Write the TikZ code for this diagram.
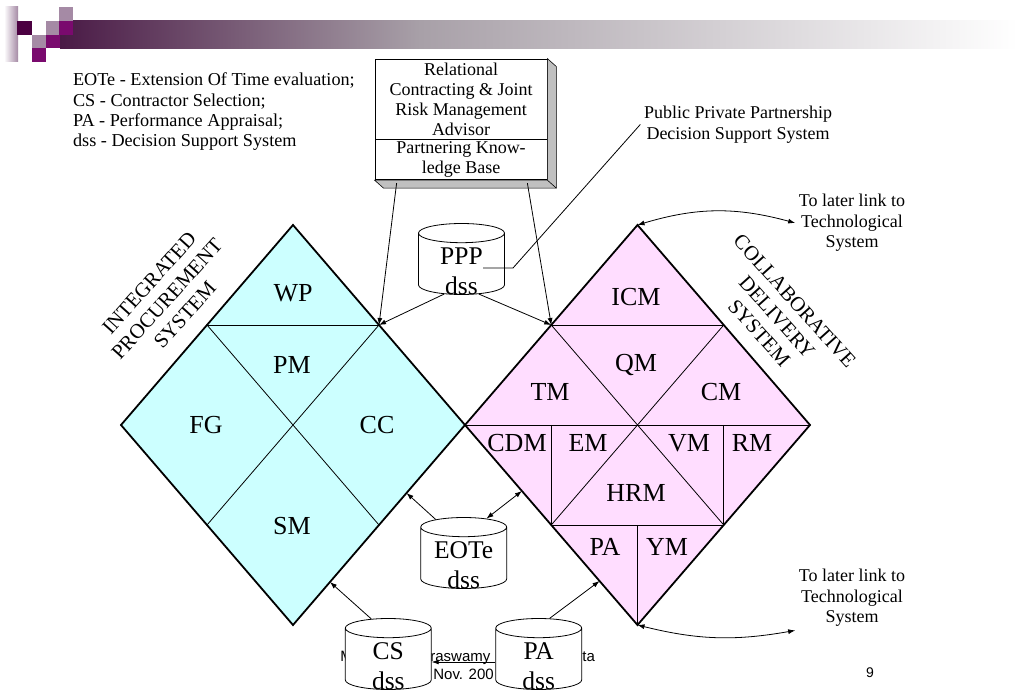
\documentclass[tikz,border=0pt]{standalone}
\usepackage{fontspec}
\setmainfont{Liberation Serif}
\setsansfont{Liberation Sans}
\usetikzlibrary{arrows.meta, shapes.geometric, positioning, calc}

\definecolor{ipscyan}{HTML}{CCFFFF}
\definecolor{cdspink}{HTML}{FFDDFF}
\definecolor{bardark}{HTML}{4A1A46}
\definecolor{bargray}{HTML}{A8A0A8}
\definecolor{sqdark}{HTML}{4B0041}
\definecolor{sqmag}{HTML}{7A0A6E}
\definecolor{sqlight}{HTML}{A58AA5}
\definecolor{shadowgray}{HTML}{C0C0C0}

\newcommand{\dssbody}{\phantom{\rule{80pt}{1pt}}}

\begin{document}
\begin{tikzpicture}[x=1pt,y=-1pt,>={Latex[length=7pt,width=5pt]},line width=0.8pt]

	\tikzset{cell/.style={font=\fontsize{26}{30}\selectfont}}
	\tikzset{dss/.style={cylinder, shape border rotate=90, aspect=0.24,
			draw, fill=white, minimum width=86pt, minimum height=71pt, inner sep=0pt}}
	\tikzset{dsstext/.style={align=center, inner sep=0pt,
			font=\fontsize{25.5}{30}\selectfont}}
	\tikzset{advisor/.style={draw, fill=white, minimum width=172pt,
			align=center, inner sep=0pt, font=\fontsize{18}{20}\selectfont}}
	\tikzset{note/.style={align=center, font=\fontsize{18}{20.5}\selectfont}}
	\tikzset{sysname/.style={align=center, font=\fontsize{20.7}{24}\selectfont}}
	\tikzset{footer/.style={anchor=base west, inner sep=0pt,
			font=\sffamily\fontsize{15}{18}\selectfont}}
	\tikzset{outline/.style={line width=1.8pt, line join=miter}}

	\useasboundingbox[fill=white] (0,0) rectangle (1018,700);

	% slide banner
	\shade[left color=bardark, right color=bargray] (60,20.7) rectangle (420,48.3);
	\shade[left color=bargray, right color=white] (420,20.7) rectangle (1018,48.3);
	\shade[left color=white, right color=sqlight] (4,7) rectangle (18,62);
	\fill[sqdark] (17,21) rectangle (32,35);
	\fill[sqlight] (32,35) rectangle (46,48);
	\fill[sqmag] (32,48) rectangle (46,62);
	\fill[sqlight] (46,21) rectangle (59,35);
	\fill[sqmag] (46,35) rectangle (60,48);
	\fill[sqlight] (59,7) rectangle (73,21);
	\fill[sqmag] (59,21) rectangle (73,35);

	% legend
	\node[anchor=north west, align=left, inner sep=0pt,
		font=\fontsize{18.2}{20.3}\selectfont] (legend) at (72.7,72.5)
		{EOTe - Extension Of Time evaluation;\\
		 CS - Contractor Selection;\\
		 PA - Performance Appraisal;\\
		 dss - Decision Support System};

	% integrated procurement system
	\coordinate (lT) at (293,225);
	\coordinate (lL) at (121,425);
	\coordinate (lR) at (465,425);
	\coordinate (lB) at (293,625);
	\coordinate (lUL) at (207,325);
	\coordinate (lUR) at (379,325);
	\coordinate (lLL) at (207,525);
	\coordinate (lLR) at (379,525);

	\fill[ipscyan] (lT) -- (lR) -- (lB) -- (lL) -- cycle;
	\draw (lUL) -- (lUR);
	\draw (lUL) -- (lLR);
	\draw (lUR) -- (lLL);
	\draw[outline] (lT) -- (lR) -- (lB) -- (lL) -- cycle;

	\node[cell] (wp) at (293,293) {WP};
	\node[cell] (pm) at (292,365) {PM};
	\node[cell] (fg) at (206,425) {FG};
	\node[cell] (cc) at (377,425) {CC};
	\node[cell] (sm) at (292,526) {SM};

	% collaborative delivery system
	\coordinate (rT) at (637.5,225);
	\coordinate (rL) at (465,425);
	\coordinate (rR) at (810,425);
	\coordinate (rB) at (637.5,625);
	\coordinate (rUL) at (551.25,325);
	\coordinate (rUR) at (723.75,325);
	\coordinate (rLL) at (551.25,525);
	\coordinate (rLR) at (723.75,525);
	\coordinate (rML) at (551.25,425);
	\coordinate (rMR) at (723.75,425);
	\coordinate (rMB) at (637.5,525);

	\fill[cdspink] (rT) -- (rR) -- (rB) -- (rL) -- cycle;
	\draw (rUL) -- (rUR);
	\draw (rL) -- (rR);
	\draw (rLL) -- (rLR);
	\draw (rUL) -- (rLR);
	\draw (rUR) -- (rLL);
	\draw (rML) -- (rLL);
	\draw (rMR) -- (rLR);
	\draw (rMB) -- (rB);
	\draw[outline] (rT) -- (rR) -- (rB) -- (rL) -- cycle;

	\node[cell] (icm) at (636,297) {ICM};
	\node[cell] (qm) at (636,365) {QM};
	\node[cell] (tm) at (550,392) {TM};
	\node[cell] (cm) at (721,392) {CM};
	\node[cell] (cdm) at (517,443) {CDM};
	\node[cell] (em) at (588,443) {EM};
	\node[cell] (vm) at (689,443) {VM};
	\node[cell] (rm) at (752,443) {RM};
	\node[cell] (hrm) at (636,493) {HRM};
	\node[cell] (pa) at (605,547) {PA};
	\node[cell] (ym) at (667,547) {YM};

	\node[sysname, rotate=48] (ips) at (167,299) {INTEGRATED\\PROCUREMENT\\SYSTEM};
	\node[sysname, rotate=-48] (cds) at (777,317) {COLLABORATIVE\\DELIVERY\\SYSTEM};

	% advisor box
	\node[advisor, minimum height=80pt] (rca) at (461,99)
		{Relational\\Contracting \& Joint\\Risk Management\\Advisor};
	\node[advisor, minimum height=40pt, below=0pt of rca] (pkb)
		{Partnering Know-\\ledge Base};
	\filldraw[fill=shadowgray, line width=0.6pt] (rca.north east) -- ++(9,8)
		-- ($(pkb.south east)+(9,8)$) -- ($(pkb.south west)+(9,8)$)
		-- (pkb.south west) -- (pkb.south east) -- cycle;
	\draw[line width=0.6pt] (pkb.south east) -- ++(9,8);

	% footer (partly hidden)
	\node[footer] (ftm) at (340,661) {M};
	\node[footer] (ftname) at (430,661) {raswamy};
	\node[footer] (ftta) at (582,661) {ta};
	\node[footer] (ftdate) at (433,679) {Nov. 200};
	\node[anchor=center, font=\sffamily\fontsize{14}{16}\selectfont] (pageno) at (870,673) {9};

	% decision support systems
	\node[dss] (ppp) at (461.5,264) {\dssbody};
	\node[dsstext] (ppptext) at (461.5,271) {PPP\\dss};
	\node[dss] (eote) at (463.7,558) {\dssbody};
	\node[dsstext] (eotetext) at (463.7,565) {EOTe\\dss};
	\node[dss] (cs) at (388.3,659) {\dssbody};
	\node[dsstext] (cstext) at (388.3,666) {CS\\dss};
	\node[dss] (pa) at (538.7,659) {\dssbody};
	\node[dsstext] (patext) at (538.7,666) {PA\\dss};

	% notes
	\node[note] (pppnote) at (738,124.5) {Public Private Partnership\\Decision Support System};
	\node[note] (tl1) at (852,223) {To later link to\\Technological\\System};
	\node[note] (tl2) at (852,598) {To later link to\\Technological\\System};

	% edge points
	\coordinate (lE1) at ($(lR)!0.34!(lB)$);
	\coordinate (lE2) at ($(lR)!0.785!(lB)$);
	\coordinate (rE1) at ($(rL)!0.33!(rB)$);
	\coordinate (rE2) at ($(rL)!0.78!(rB)$);

	% links
	\draw[->] ($(pkb.south west)+(22,3)$) -- (lUR);
	\draw[->] ($(pkb.south east)+(-20,3)$) -- (rUL);
	\draw[->] (ppp.240) -- (lUR);
	\draw[->] (ppp.300) -- (rUL);
	\draw ($(ppp.center)+(21.5,4)$) -- ++(30,0) -- (pppnote.west);
	\draw[->] (eote.126) -- (lE1);
	\draw[<->] (eote.60) -- (rE1);
	\draw[->] (cs.113) -- (lE2);
	\draw[->] (pa.75) -- (rE2);
	\draw[->] ($(pa.west)+(0,3)$) -- ($(cs.east)+(0,3)$);
	\draw[<->] (rT) to[bend left=16] (tl1.west);
	\draw[<->] (rB) to[bend right=12] (tl2.south west);

\end{tikzpicture}
\end{document}
